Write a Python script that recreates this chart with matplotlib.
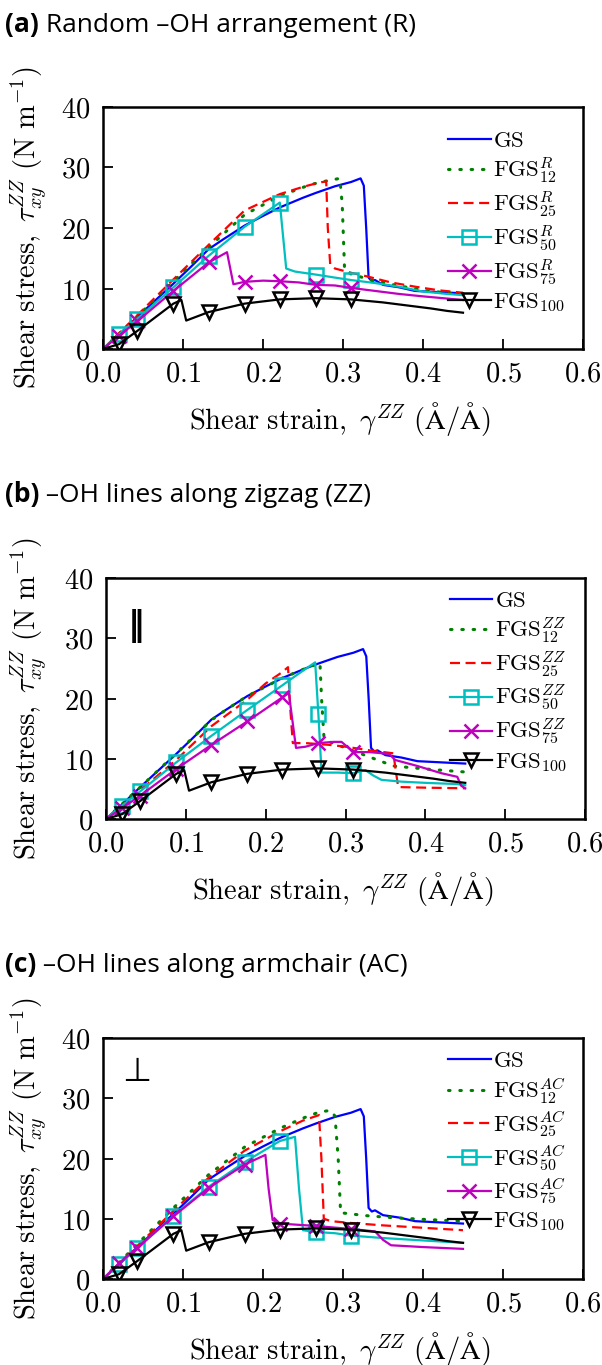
import numpy as np
import matplotlib
matplotlib.use("Agg")
import matplotlib.pyplot as plt
from matplotlib.ticker import FuncFormatter

plt.rcParams["mathtext.fontset"] = "cm"
plt.rcParams["font.family"] = ["DejaVu Serif"]

# ---------------- data ----------------
# strains (Å/Å) at which markers are placed
MARK_STRAIN = [0.02, 0.043, 0.088, 0.132, 0.177, 0.221, 0.266, 0.31]

# pristine graphene sheet (same curve in every panel)
gs_x = [0, 0.02, 0.043, 0.088, 0.11, 0.132, 0.15, 0.177, 0.2, 0.221, 0.25, 0.266,
        0.29, 0.31, 0.322, 0.326, 0.329, 0.332, 0.336, 0.34, 0.35, 0.37, 0.39, 0.42, 0.45]
gs_y = [0, 2.4, 5.3, 10.8, 13.6, 16.5, 18.1, 20.4, 22.0, 23.4, 25.0, 25.8,
        26.9, 27.6, 28.2, 27.0, 20.0, 11.8, 11.2, 11.4, 10.6, 10.2, 9.6, 9.4, 9.2]

# fully functionalised sheet (same curve in every panel)
fgs100_x = [0, 0.02, 0.043, 0.088, 0.098, 0.104, 0.132, 0.177, 0.221, 0.266, 0.31,
            0.35, 0.38, 0.41, 0.43, 0.45]
fgs100_y = [0, 0.8, 3.0, 7.5, 8.1, 4.7, 6.1, 7.5, 8.2, 8.4, 8.2,
            7.7, 7.2, 6.7, 6.3, 6.0]

# (a) random -OH arrangement
r12_x = [0, 0.043, 0.088, 0.132, 0.177, 0.221, 0.26, 0.28, 0.296, 0.299, 0.302,
         0.31, 0.33, 0.36, 0.40, 0.45]
r12_y = [0, 5.4, 11.2, 16.8, 22.2, 25.3, 27.2, 27.8, 28.2, 24.0, 13.0,
         12.4, 11.6, 10.7, 9.7, 9.0]
r25_x = [0, 0.043, 0.088, 0.132, 0.177, 0.221, 0.25, 0.27, 0.279, 0.281, 0.284,
         0.29, 0.31, 0.33, 0.36, 0.39, 0.42, 0.45]
r25_y = [0, 5.6, 11.5, 17.2, 22.9, 25.6, 26.8, 27.5, 27.7, 20.0, 14.0,
         13.3, 12.6, 12.0, 11.0, 10.3, 9.7, 9.3]
r50_x = [0, 0.02, 0.043, 0.088, 0.132, 0.177, 0.221, 0.229, 0.24, 0.266, 0.29,
         0.31, 0.34, 0.37, 0.40, 0.43, 0.45]
r50_y = [0, 2.4, 5.0, 10.2, 15.4, 20.2, 24.2, 13.3, 12.8, 12.3, 11.8,
         11.4, 10.9, 10.3, 9.5, 9.1, 8.9]
r75_x = [0, 0.02, 0.043, 0.088, 0.132, 0.155, 0.163, 0.177, 0.2, 0.221, 0.245,
         0.266, 0.29, 0.31, 0.34, 0.37, 0.40, 0.45]
r75_y = [0, 2.2, 4.6, 9.6, 14.3, 16.0, 10.7, 11.1, 11.3, 11.2, 11.0,
         10.6, 10.5, 10.1, 9.6, 9.1, 8.7, 8.1]

# (b) -OH lines along zigzag
zz12_x = [0, 0.043, 0.088, 0.132, 0.15, 0.177, 0.221, 0.25, 0.268, 0.27, 0.273,
          0.28, 0.30, 0.33, 0.36, 0.40, 0.45]
zz12_y = [0, 5.3, 10.9, 16.4, 18.1, 20.4, 23.4, 25.0, 25.9, 20.0, 13.6,
          12.8, 11.8, 10.3, 8.8, 8.3, 7.8]
zz25_x = [0, 0.043, 0.088, 0.132, 0.177, 0.2, 0.221, 0.228, 0.231, 0.234, 0.25,
          0.28, 0.30, 0.33, 0.36, 0.363, 0.366, 0.40, 0.45]
zz25_y = [0, 4.8, 9.8, 15.4, 19.8, 22.5, 24.4, 25.2, 18.0, 12.6, 12.6,
          12.3, 12.0, 11.4, 10.9, 8.0, 5.3, 5.2, 5.1]
zz50_x = [0, 0.02, 0.043, 0.088, 0.132, 0.177, 0.221, 0.24, 0.262, 0.266, 0.27,
          0.29, 0.31, 0.325, 0.335, 0.345, 0.37, 0.40, 0.44, 0.45]
zz50_y = [0, 2.2, 4.6, 9.4, 13.8, 18.1, 22.2, 24.0, 26.0, 17.5, 7.7,
          7.7, 7.6, 8.1, 7.2, 6.5, 6.2, 6.0, 5.8, 5.6]
zz75_x = [0, 0.02, 0.043, 0.088, 0.132, 0.177, 0.221, 0.229, 0.238, 0.25, 0.266,
          0.285, 0.295, 0.31, 0.33, 0.355, 0.362, 0.39, 0.42, 0.44, 0.445, 0.45]
zz75_y = [0, 1.8, 3.9, 8.3, 12.3, 16.2, 20.2, 20.9, 11.8, 12.0, 12.6,
          12.8, 12.8, 11.1, 11.1, 10.8, 9.8, 8.8, 7.6, 7.0, 5.5, 5.1]

# (c) -OH lines along armchair
ac12_x = [0, 0.043, 0.088, 0.132, 0.177, 0.221, 0.25, 0.27, 0.285, 0.29, 0.294,
          0.297, 0.31, 0.33, 0.36, 0.40, 0.45]
ac12_y = [0, 5.8, 11.8, 17.3, 21.9, 25.0, 26.7, 27.7, 28.0, 27.0, 20.0,
          11.0, 10.8, 10.5, 10.2, 9.9, 9.6]
ac25_x = [0, 0.043, 0.088, 0.132, 0.177, 0.221, 0.25, 0.27, 0.273, 0.276, 0.285,
          0.31, 0.35, 0.40, 0.45]
ac25_y = [0, 5.5, 11.3, 16.8, 21.3, 24.5, 26.3, 27.2, 20.0, 10.0, 9.6,
          9.3, 8.9, 8.5, 8.1]
ac50_x = [0, 0.02, 0.043, 0.088, 0.132, 0.177, 0.221, 0.24, 0.245, 0.25, 0.266,
          0.29, 0.31, 0.35, 0.40, 0.45]
ac50_y = [0, 2.5, 5.1, 10.5, 15.3, 19.4, 22.9, 23.6, 15.0, 8.1, 7.8,
          7.6, 7.2, 6.8, 6.4, 6.0]
ac75_x = [0, 0.02, 0.043, 0.088, 0.132, 0.177, 0.203, 0.207, 0.212, 0.221, 0.266,
          0.31, 0.34, 0.35, 0.36, 0.40, 0.45]
ac75_y = [0, 2.6, 5.2, 10.4, 15.1, 19.0, 20.6, 15.0, 9.8, 9.2, 8.8,
          8.3, 7.9, 6.5, 5.6, 5.3, 5.0]

PANEL_TITLES = ["(a)", "(b)", "(c)"]
PANEL_SUBTITLES = [" Random \u2013OH arrangement (R)",
                   " \u2013OH lines along zigzag (ZZ)",
                   " \u2013OH lines along armchair (AC)"]
PANEL_TAGS = ["R", "ZZ", "AC"]
PANEL_SYMBOLS = [None, "\u2016", "\u22a5"]

X_TICKS = [0.0, 0.1, 0.2, 0.3, 0.4, 0.5, 0.6]
Y_TICKS = [0, 10, 20, 30, 40]

panel_series = [
    [(r12_x, r12_y), (r25_x, r25_y), (r50_x, r50_y), (r75_x, r75_y)],
    [(zz12_x, zz12_y), (zz25_x, zz25_y), (zz50_x, zz50_y), (zz75_x, zz75_y)],
    [(ac12_x, ac12_y), (ac25_x, ac25_y), (ac50_x, ac50_y), (ac75_x, ac75_y)],
]

# ---------------- layout ----------------
W, H = 602, 1365
fig = plt.figure(figsize=(W / 100, H / 100), dpi=100)

# axes boxes in pixels: left, top, right, bottom
boxes = [(103, 107, 583, 349), (106, 578, 585, 819), (103, 1038, 583, 1279)]
title_baselines = [32, 502, 972]
legend_anchor = [(0.719, 0.905), (0.718, 0.95), (0.719, 0.95)]
symbol_pos = [None, (0.063, 0.80), (0.07, 0.86)]
symbol_style = [None, dict(fontsize=24, fontweight="bold", family="DejaVu Sans"),
                dict(fontsize=24, family="DejaVu Sans")]

LW = 1.6


def markmask(x):
    x = np.asarray(x)
    return [bool(np.any(np.isclose(v, MARK_STRAIN, atol=1e-4))) for v in x]


for i, (l, t, r, b) in enumerate(boxes):
    ax = fig.add_axes([l / W, 1 - b / H, (r - l) / W, (b - t) / H])
    tag = PANEL_TAGS[i]
    s12, s25, s50, s75 = panel_series[i]

    ax.plot(gs_x, gs_y, color="b", lw=LW, label=r"$\mathrm{GS}$")
    ax.plot(*s12, color="g", lw=LW + 0.6, ls=(0, (0.5, 3.2)), dash_capstyle="round",
            label=r"$\mathrm{FGS}_{12}^{%s}$" % tag)
    ax.plot(*s25, color="r", lw=LW, ls=(0, (4.5, 2.5)),
            label=r"$\mathrm{FGS}_{25}^{%s}$" % tag)
    ax.plot(*s50, color="c", lw=LW, marker="s", ms=10, mfc="none", mew=1.8,
            markevery=markmask(s50[0]),
            label=r"$\mathrm{FGS}_{50}^{%s}$" % tag)
    ax.plot(*s75, color="m", lw=LW, marker="x", ms=10, mew=1.8,
            markevery=markmask(s75[0]),
            label=r"$\mathrm{FGS}_{75}^{%s}$" % tag)
    ax.plot(fgs100_x, fgs100_y, color="k", lw=LW, marker="v", ms=10, mfc="none",
            mew=1.8, markevery=markmask(fgs100_x),
            label=r"$\mathrm{FGS}_{100}$")

    ax.set_xlim(0, 0.6)
    ax.set_ylim(0, 40)
    ax.set_xticks(X_TICKS)
    ax.set_yticks(Y_TICKS)
    ax.xaxis.set_major_formatter(FuncFormatter(lambda v, p: r"$%.1f$" % v))
    ax.yaxis.set_major_formatter(FuncFormatter(lambda v, p: r"$%d$" % v))
    ax.tick_params(direction="in", length=7, width=1.3, labelsize=20.5,
                   top=False, right=False)
    ax.tick_params(axis="x", pad=8)
    ax.tick_params(axis="y", pad=9)
    for sp in ax.spines.values():
        sp.set_linewidth(1.8)

    ax.set_xlabel(r"$\mathrm{Shear\ strain,}\ \gamma^{ZZ}\ (\mathrm{\AA/\AA})$",
                  fontsize=20.5)
    ax.set_ylabel(r"$\mathrm{Shear\ stress,}\ \tau_{xy}^{ZZ}\ (\mathrm{N\ m^{-1}})$",
                  fontsize=20.5)
    ax.xaxis.set_label_coords(0.494, -0.21)
    ax.yaxis.set_label_coords(-0.112 if i != 1 else -0.118, 0.5)

    ax.legend(loc="upper left", bbox_to_anchor=legend_anchor[i], frameon=False,
              fontsize=16.5, borderpad=0, borderaxespad=0, handlelength=1.85,
              handletextpad=0.1, labelspacing=0.16, numpoints=1)

    if PANEL_SYMBOLS[i]:
        ax.text(*symbol_pos[i], PANEL_SYMBOLS[i], transform=ax.transAxes,
                ha="center", va="center", **symbol_style[i])

    # panel heading: bold letter followed by regular description
    t1 = fig.text(5 / W, 1 - title_baselines[i] / H, PANEL_TITLES[i],
                  fontsize=19, fontweight="bold", family="Open Sans", va="baseline")
    fig.add_artist(matplotlib.text.Annotation(
        PANEL_SUBTITLES[i], xy=(1, 0), xycoords=t1, va="bottom",
        fontsize=19, family="Open Sans"))

fig.savefig("out.png", dpi=100)
